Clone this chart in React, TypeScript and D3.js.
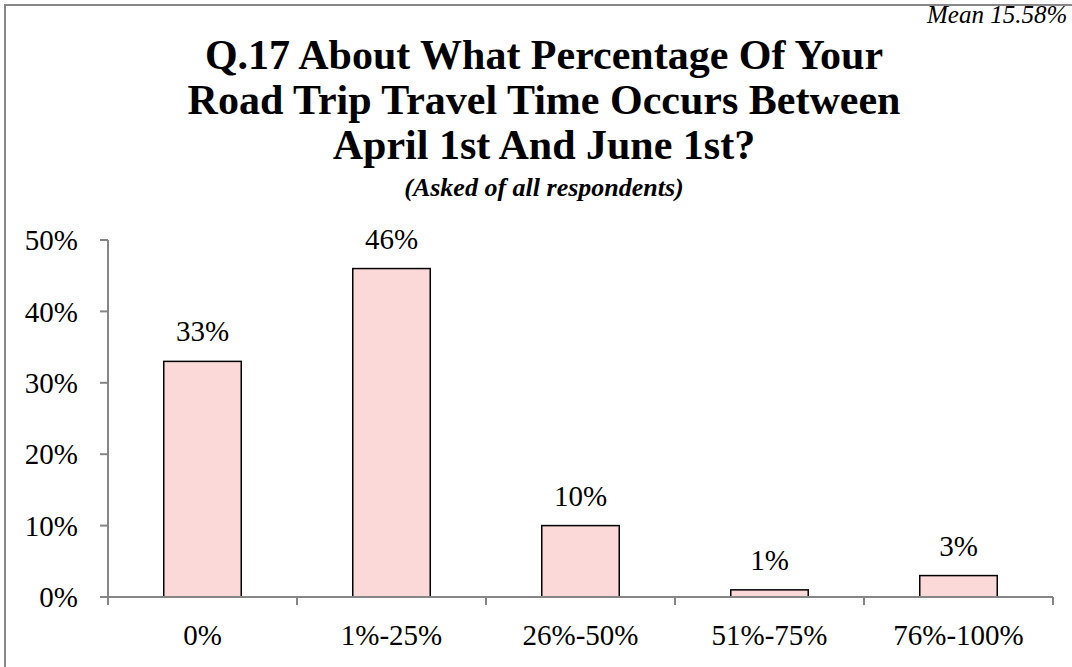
import React from 'react';
import * as d3 from 'd3';

// chart values
const categories = ['0%', '1%-25%', '26%-50%', '51%-75%', '76%-100%'];
const values = [33, 46, 10, 1, 3];
const yTicks = [0, 10, 20, 30, 40, 50];
const titleLines = [
  'Q.17 About What Percentage Of Your',
  'Road Trip Travel Time Occurs Between',
  'April 1st And June 1st?',
];
const subtitle = '(Asked of all respondents)';
const meanLabel = 'Mean 15.58%';

const W = 1072;
const H = 667;
const font = '"Liberation Serif", "Times New Roman", serif';

export default function App() {
  const plot = { left: 108, right: 1053, top: 240, bottom: 597 };

  const x = d3.scaleBand<string>()
    .domain(categories)
    .range([plot.left, plot.right])
    .padding(0);

  const y = d3.scaleLinear()
    .domain([0, 50])
    .range([plot.bottom, plot.top]);

  const barW = x.bandwidth() * 0.41;
  const axisColor = '#868686';

  return (
    <svg
      width={W}
      height={H}
      style={{ position: 'absolute', left: 0, top: 0, background: '#fff' }}
      fontFamily={font}
    >
      {/* chart frame, runs past the right and bottom edges */}
      <rect x={5} y={5} width={W + 20} height={H + 20} fill="#fff" stroke="#888" strokeWidth={2} />

      {/* title */}
      {titleLines.map((t, i) => (
        <text key={t} x={544} y={69 + i * 45} textAnchor="middle" fontSize={42} fontWeight="bold" fill="#000">
          {t}
        </text>
      ))}
      <text x={544} y={196} textAnchor="middle" fontSize={26} fontWeight="bold" fontStyle="italic" fill="#000">
        {subtitle}
      </text>
      <text x={927} y={23} fontSize={25} fontStyle="italic" fill="#000">
        {meanLabel}
      </text>

      {/* y axis */}
      <line x1={plot.left} x2={plot.left} y1={y(50)} y2={y(0)} stroke={axisColor} strokeWidth={2} />
      {yTicks.map(t => (
        <g key={t}>
          <line x1={plot.left - 8} x2={plot.left} y1={y(t)} y2={y(t)} stroke={axisColor} strokeWidth={2} />
          <text x={78} y={y(t)} dy="0.35em" textAnchor="end" fontSize={29} fill="#000">
            {t}%
          </text>
        </g>
      ))}

      {/* bars */}
      {categories.map((c, i) => {
        const cx = (x(c) as number) + x.bandwidth() / 2;
        return (
          <g key={c}>
            <rect
              x={cx - barW / 2}
              y={y(values[i])}
              width={barW}
              height={y(0) - y(values[i])}
              fill="#fcd9d9"
              stroke="#000"
              strokeWidth={1.5}
            />
            <text x={cx} y={y(values[i]) - 20} textAnchor="middle" fontSize={29} fill="#000">
              {values[i]}%
            </text>
          </g>
        );
      })}

      {/* x axis */}
      <line x1={plot.left} x2={plot.right} y1={y(0)} y2={y(0)} stroke={axisColor} strokeWidth={2} />
      {[...categories.map(c => x(c) as number), plot.right].map((px, i) => (
        <line key={i} x1={px} x2={px} y1={y(0)} y2={y(0) + 8} stroke={axisColor} strokeWidth={2} />
      ))}
      {categories.map(c => (
        <text key={c} x={(x(c) as number) + x.bandwidth() / 2} y={645} textAnchor="middle" fontSize={29} fill="#000">
          {c}
        </text>
      ))}
    </svg>
  );
}
